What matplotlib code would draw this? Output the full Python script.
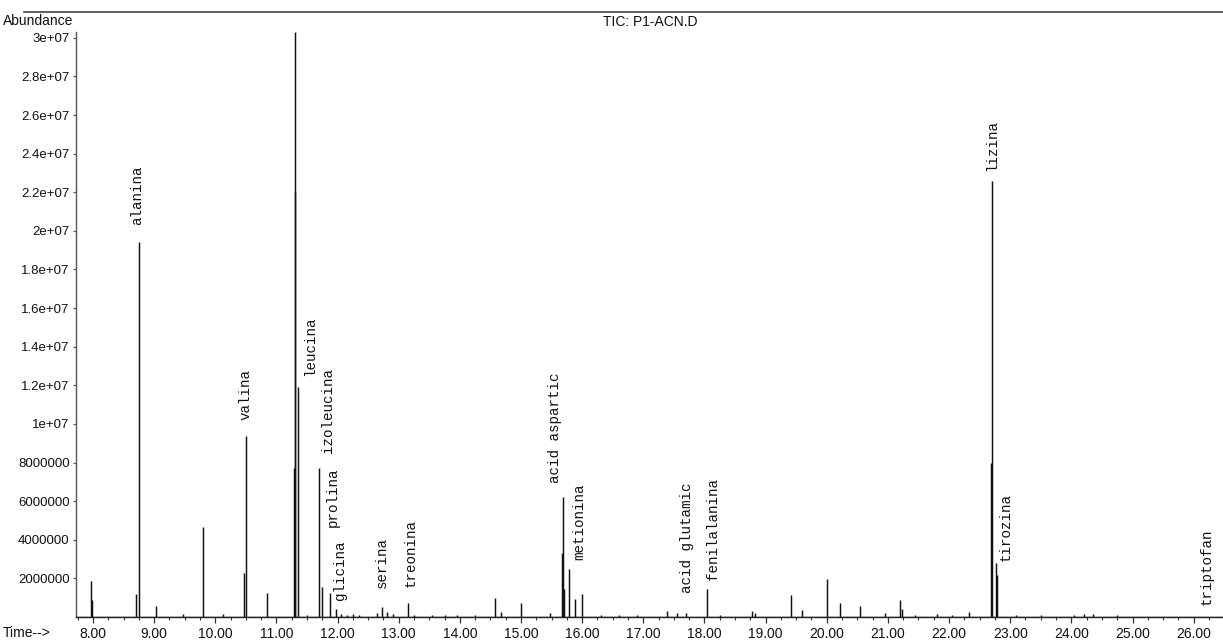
import matplotlib
matplotlib.use("Agg")
import matplotlib.pyplot as plt
from matplotlib.ticker import FixedLocator, MultipleLocator, NullFormatter
from matplotlib.lines import Line2D

# ---------------- data ----------------
peak_times = [7.97, 7.99, 8.71, 8.745, 9.03, 9.47, 9.80, 10.13, 10.47, 10.50,
              10.85, 11.29, 11.30, 11.31, 11.36, 11.50, 11.70, 11.75, 11.87, 11.97,
              12.05, 12.15, 12.25, 12.35, 12.65, 12.72, 12.80, 12.90, 13.15, 13.25,
              13.55, 13.75, 13.95, 14.25, 14.57, 14.68, 15.00, 15.48, 15.665, 15.68,
              15.71, 15.79, 15.88, 15.99, 16.30, 16.60, 16.90, 17.38, 17.55, 17.70,
              18.04, 18.25, 18.77, 18.83, 19.42, 19.60, 20.01, 20.21, 20.55, 20.96,
              21.19, 21.23, 21.45, 21.80, 22.05, 22.33, 22.68, 22.70, 22.76, 22.78,
              23.10, 23.50, 24.05, 24.20, 24.36, 24.75]
peak_heights = [1.85e6, 8.8e5, 1.2e6, 1.94e7, 5.5e5, 1.5e5, 4.66e6, 1.5e5, 2.3e6, 9.38e6,
                1.24e6, 7.7e6, 2.2e7, 3.03e7, 1.19e7, 1.0e5, 7.7e6, 1.55e6, 1.24e6, 4.0e5,
                1.5e5, 1.2e5, 1.5e5, 1.0e5, 2.0e5, 5.0e5, 2.5e5, 1.5e5, 7.2e5, 1.0e5,
                1.0e5, 1.2e5, 1.0e5, 1.0e5, 9.8e5, 2.5e5, 7.0e5, 2.0e5, 3.3e6, 6.2e6,
                1.45e6, 2.5e6, 9.3e5, 1.2e6, 1.0e5, 1.0e5, 1.0e5, 3.0e5, 2.0e5, 2.0e5,
                1.45e6, 1.0e5, 3.0e5, 2.0e5, 1.15e6, 3.6e5, 1.97e6, 7.2e5, 5.7e5, 2.0e5,
                8.8e5, 4.0e5, 1.0e5, 1.5e5, 1.0e5, 2.5e5, 8.0e6, 2.26e7, 2.8e6, 2.2e6,
                1.0e5, 1.0e5, 1.2e5, 1.5e5, 1.5e5, 1.0e5]

compound_names = ["alanina", "valina", "leucina", "izoleucina", "prolina", "glicina",
                  "serina", "treonina", "acid aspartic", "metionina", "acid glutamic",
                  "fenilalanina", "lizina", "tirozina", "triptofan"]

xtick_values = [8, 9, 10, 11, 12, 13, 14, 15, 16, 17, 18, 19, 20, 21, 22, 23, 24, 25, 26]
xtick_labels = ["8.00", "9.00", "10.00", "11.00", "12.00", "13.00", "14.00", "15.00",
                "16.00", "17.00", "18.00", "19.00", "20.00", "21.00", "22.00", "23.00",
                "24.00", "25.00", "26.00"]
ytick_values = [2e6, 4e6, 6e6, 8e6, 1e7, 1.2e7, 1.4e7, 1.6e7, 1.8e7, 2e7, 2.2e7,
                2.4e7, 2.6e7, 2.8e7, 3e7]
ytick_labels = ["2000000", "4000000", "6000000", "8000000", "1e+07", "1.2e+07",
                "1.4e+07", "1.6e+07", "1.8e+07", "2e+07", "2.2e+07", "2.4e+07",
                "2.6e+07", "2.8e+07", "3e+07"]

title_text = "TIC: P1-ACN.D"

# ---------------- layout (label anchor positions, in data coords) ----------------
label_x = [8.72, 10.50, 11.55, 11.84, 11.92, 12.04, 12.73, 13.20, 15.56, 15.96,
           17.71, 18.14, 22.70, 22.93, 26.22]
label_y = [2.03e7, 1.02e7, 1.25e7, 8.5e6, 4.66e6, 8.8e5, 1.5e6, 1.55e6, 6.94e6, 2.95e6,
           1.24e6, 1.92e6, 2.31e7, 2.9e6, 6.2e5]

W, H = 1223, 640
fig = plt.figure(figsize=(W / 100, H / 100), dpi=100)
ax_left, ax_bottom_px, ax_top_px = 76, 617, 32
ax = fig.add_axes([ax_left / W, (H - ax_bottom_px) / H,
                   (W - ax_left) / W, (ax_bottom_px - ax_top_px) / H])

ax.set_xlim(7.722, 26.48)
ax.set_ylim(0, 3.03e7)

# baseline trace and peaks
ax.plot([7.722, 26.48], [0, 0], color="#222222", lw=1.0, solid_capstyle="butt")
ax.vlines(peak_times, 0, peak_heights, colors="#111111", linewidth=1.05)

# compound labels
for name, lx, ly in zip(compound_names, label_x, label_y):
    ax.text(lx, ly, name, rotation=90, ha="center", va="bottom",
            fontsize=10.3, family=["Liberation Mono", "DejaVu Sans Mono"], color="#111111")

# spines
for s in ("top", "right"):
    ax.spines[s].set_visible(False)
ax.spines["left"].set_color("#555555")
ax.spines["bottom"].set_color("#222222")
ax.spines["left"].set_linewidth(1.0)
ax.spines["bottom"].set_linewidth(1.0)

# ticks
ax.xaxis.set_major_locator(FixedLocator(xtick_values))
ax.set_xticklabels(xtick_labels)
ax.xaxis.set_minor_locator(MultipleLocator(0.25))
ax.xaxis.set_minor_formatter(NullFormatter())
ax.yaxis.set_major_locator(FixedLocator(ytick_values))
ax.set_yticklabels(ytick_labels)
ax.tick_params(axis="x", which="major", direction="out", length=4, width=0.9,
               color="#333333", pad=3, labelsize=10)
ax.tick_params(axis="x", which="minor", direction="out", length=2.5, width=0.8,
               color="#333333")
ax.tick_params(axis="y", which="major", direction="out", length=2.5, width=0.9,
               color="#555555", pad=2, labelsize=9.5)
for lab in ax.get_xticklabels() + ax.get_yticklabels():
    lab.set_family(["Liberation Sans", "DejaVu Sans"])
    lab.set_color("#111111")

# header / frame text
fig.add_artist(Line2D([0.02, 1.0], [(H - 12) / H, (H - 12) / H],
                      color="#444444", lw=1.2, transform=fig.transFigure))
fig.text(650 / W, (H - 22) / H, title_text, ha="center", va="center", fontsize=10,
         family=["Liberation Sans", "DejaVu Sans"], color="#111111")
fig.text(3 / W, (H - 21) / H, "Abundance", ha="left", va="center", fontsize=10,
         family=["Liberation Sans", "DejaVu Sans"], color="#111111")
fig.text(3 / W, (H - 633) / H, "Time-->", ha="left", va="center", fontsize=10,
         family=["Liberation Sans", "DejaVu Sans"], color="#111111")

fig.savefig("out.png", dpi=100, facecolor="white")
